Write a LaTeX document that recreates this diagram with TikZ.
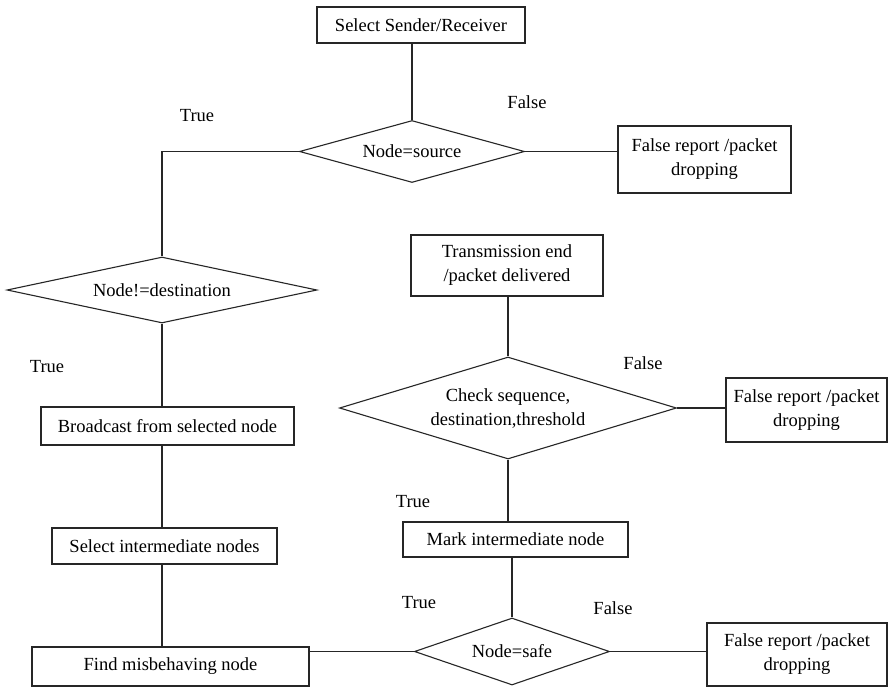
\documentclass[tikz,border=0pt]{standalone}
\usepackage{fontspec}
\setmainfont{LiberationSerif}[Extension=.ttf, UprightFont=*-Regular, BoldFont=*-Bold]
\usetikzlibrary{shapes.geometric}
\tikzset{
  base/.style={draw=black!85, line width=1.1pt, inner sep=0pt, align=center,
    font=\rmfamily\fontsize{18.5}{24}\selectfont},
  box/.style={base, rectangle},
  dec/.style={base, diamond, aspect=3},
  lbl/.style={inner sep=0pt, font=\rmfamily\fontsize{18.5}{24}\selectfont},
  conn/.style={draw=black!85, line width=1.1pt},
}
\begin{document}
\begin{tikzpicture}[x=1pt, y=-1pt]
\useasboundingbox[fill=white] (0,0) rectangle (889,688);

% boxes
\node[box, minimum width=208pt, minimum height=36pt] (sel) at (421,25) {Select Sender/Receiver};
\node[box, minimum width=173pt, minimum height=67pt] (fr1) at (704.5,159.5) {False report /packet\\dropping};
\node[box, minimum width=192pt, minimum height=61pt] (trans) at (507,265.5) {Transmission end\\/packet delivered};
\node[box, minimum width=161pt, minimum height=64pt] (fr2) at (806.5,410) {False report /packet\\dropping};
\node[box, minimum width=253pt, minimum height=38pt] (bcast) at (167.5,426) {Broadcast from selected node};
\node[box, minimum width=225pt, minimum height=36pt] (selint) at (164.5,546) {Select intermediate nodes};
\node[box, minimum width=277pt, minimum height=39pt] (find) at (170.5,666.5) {Find misbehaving node};
\node[box, minimum width=225pt, minimum height=35pt] (mark) at (515.5,539.5) {Mark intermediate node};
\node[box, minimum width=180pt, minimum height=63pt] (fr3) at (797,654.5) {False report /packet\\dropping};

% decisions
\node[dec, minimum width=225pt, minimum height=62pt] (src) at (412,151.5) {Node=source};
\node[dec, minimum width=310pt, minimum height=66pt] (dest) at (162,290) {Node!=destination};
\node[dec, minimum width=337pt, minimum height=102pt] (chk) at (508,408) {Check sequence,\\destination,threshold};
\node[dec, minimum width=195pt, minimum height=67pt] (safe) at (512,651.5) {Node=safe};

% labels
\node[lbl] (t1) at (197,116) {True};
\node[lbl] (f1) at (527,102) {False};
\node[lbl] (t2) at (47,367) {True};
\node[lbl] (f2) at (643,363) {False};
\node[lbl] (t3) at (413,502) {True};
\node[lbl] (t4) at (419,603) {True};
\node[lbl] (f3) at (613,608) {False};

% connectors
\draw[conn] (src.north) -- (src.north |- sel.south);
\draw[conn] (src.west) -| (dest.north);
\draw[conn] (src.east) -- (src.east -| fr1.west);
\draw[conn] (dest.south) -- (dest.south |- bcast.north);
\draw[conn] (bcast.south -| dest.south) -- (selint.north -| dest.south);
\draw[conn] (selint.south -| dest.south) -- (find.north -| dest.south);
\draw[conn] (trans.south -| chk.north) -- (chk.north);
\draw[conn] (chk.east) -- (chk.east -| fr2.west);
\draw[conn] (chk.south) -- (chk.south |- mark.north);
\draw[conn] (mark.south -| safe.north) -- (safe.north);
\draw[conn] (safe.west) -- (safe.west -| find.east);
\draw[conn] (safe.east) -- (safe.east -| fr3.west);
\end{tikzpicture}
\end{document}
